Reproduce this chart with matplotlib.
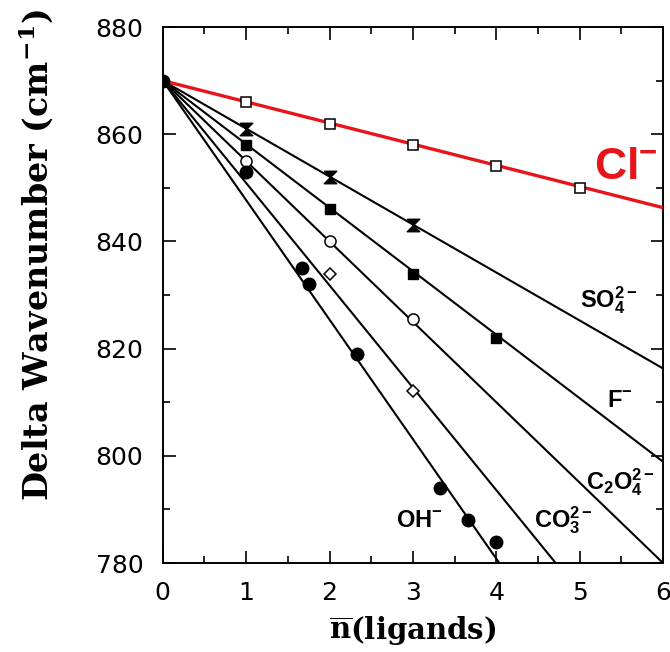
import numpy as np
import matplotlib
matplotlib.use("Agg")
import matplotlib.pyplot as plt
from matplotlib.ticker import MultipleLocator

plt.rcParams['mathtext.fontset'] = 'custom'
plt.rcParams['mathtext.rm'] = 'Liberation Sans:bold'
plt.rcParams['mathtext.bf'] = 'Liberation Sans:bold'
plt.rcParams['mathtext.it'] = 'Liberation Sans:bold'

# ---- data ----
intercept = 870.0

cl_x = [1, 2, 3, 4, 5]
cl_y = [866, 862, 858, 854, 850]

so4_x = [1, 2, 3]
so4_y = [861, 852, 843]

f_x = [1, 2, 3, 4]
f_y = [858, 846, 834, 822]

c2o4_x = [1, 2, 3]
c2o4_y = [855, 840, 825.5]

co3_x = [2, 3]
co3_y = [834, 812]

oh_x = [0, 1, 1.67, 1.75, 2.33, 3.33, 3.66, 4.0]
oh_y = [870, 853, 835, 832, 819, 794, 788, 784]

series_names = ["Cl", "SO4", "F", "C2O4", "CO3", "OH"]
fit_slopes = [-3.95, -8.95, -11.85, -15.0, -19.1, -22.3]

xlim = (0, 6)
ylim = (780, 880)

# ---- figure ----
fig = plt.figure(figsize=(6.70, 6.52), dpi=100)
ax = fig.add_axes([0.243, 0.1365, 0.7466, 0.822])

# fit lines
for name, s in zip(series_names, fit_slopes):
    xend = min(xlim[1], (ylim[0] - intercept) / s)
    xs = np.array([0, xend])
    ys = intercept + s * xs
    if name == "Cl":
        ax.plot(xs, ys, color='#e8141b', lw=2.4, zorder=3, solid_capstyle='butt')
    else:
        ax.plot(xs, ys, color='black', lw=1.5, zorder=2, solid_capstyle='butt')

hourglass = [(-1, 1), (1, 1), (-1, -1), (1, -1), (-1, 1)]

ax.plot(cl_x, cl_y, ls='none', marker='s', ms=7, mfc='white', mec='black', mew=1.1, zorder=4)
ax.plot(so4_x, so4_y, ls='none', marker=hourglass, ms=9, mfc='black', mec='black', zorder=4)
ax.plot(f_x, f_y, ls='none', marker='s', ms=7, mfc='black', mec='black', zorder=4)
ax.plot(c2o4_x, c2o4_y, ls='none', marker='o', ms=8, mfc='white', mec='black', mew=1.1, zorder=4)
ax.plot(co3_x, co3_y, ls='none', marker='D', ms=6, mfc='white', mec='black', mew=1.1, zorder=4)
ax.plot(oh_x, oh_y, ls='none', marker='o', ms=9, mfc='black', mec='black', zorder=5)

# labels
ax.text(5.17, 854, r'$\mathrm{Cl}^{-}$', color='#e8141b', fontsize=32, ha='left', va='center')
ax.text(5.0, 829, r'$\mathrm{SO}_{4}^{2-}$', color='black', fontsize=17, ha='left', va='center')
ax.text(5.33, 810.5, r'$\mathrm{F}^{-}$', color='black', fontsize=17, ha='left', va='center')
ax.text(5.08, 795, r'$\mathrm{C}_{2}\mathrm{O}_{4}^{2-}$', color='black', fontsize=17, ha='left', va='center')
ax.text(4.45, 788, r'$\mathrm{CO}_{3}^{2-}$', color='black', fontsize=17, ha='left', va='center')
ax.text(2.8, 788, r'$\mathrm{OH}^{-}$', color='black', fontsize=17, ha='left', va='center')

ax.set_xlim(*xlim)
ax.set_ylim(*ylim)
ax.xaxis.set_major_locator(MultipleLocator(1))
ax.xaxis.set_minor_locator(MultipleLocator(0.5))
ax.yaxis.set_major_locator(MultipleLocator(20))
ax.yaxis.set_minor_locator(MultipleLocator(10))
ax.tick_params(which='both', direction='in', top=True, right=True, width=1.2)
ax.tick_params(which='major', length=9, labelsize=18)
ax.tick_params(axis='x', which='major', pad=13)
ax.tick_params(axis='y', which='major', pad=14)
ax.tick_params(which='minor', length=5)
for lab in ax.get_xticklabels() + ax.get_yticklabels():
    lab.set_family('DejaVu Sans')
for sp in ax.spines.values():
    sp.set_linewidth(1.4)

ax.set_ylabel(r'Delta Wavenumber (cm$^{\mathregular{-1}}$)', family='DejaVu Serif',
              fontweight='bold', fontsize=24)
ax.yaxis.set_label_coords(-0.216, 0.575)
ax.set_xlabel(r'$\overline{\mathregular{n}}$(ligands)', family='DejaVu Serif',
              fontweight='bold', fontsize=21)
ax.xaxis.set_label_coords(0.5, -0.097)

fig.savefig('out.png', dpi=100)
